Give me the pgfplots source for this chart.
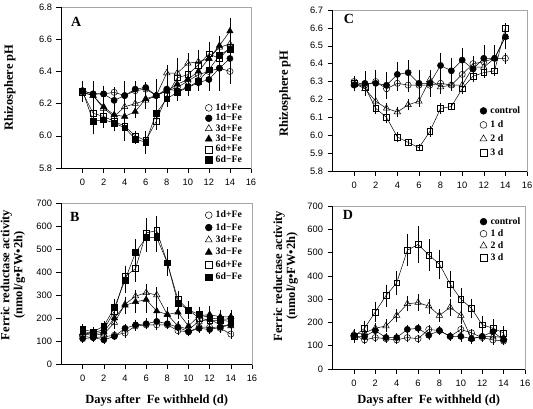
\documentclass[border=0pt]{standalone}
\usepackage{pgfplots}
\pgfplotsset{compat=1.18}
\usepackage{fontspec}
\setmainfont{Liberation Serif}
\newfontfamily\sansf{Liberation Sans}
\pgfplotsset{
  panel/.style={
    scale only axis, xmin=-2, xmax=16, xtick={0,2,...,16},
    tick align=outside, xtick pos=bottom, ytick pos=left,
    major tick length=5pt, tick style={black, line width=0.5pt},
    axis line style={draw=gray!70, line width=0.6pt},
    tick label style={font=\sansf\fontsize{9.3}{10}\selectfont},
    xticklabel style={yshift=-2.5pt},
    yticklabel style={xshift=-1pt},
    /pgf/number format/assume math mode=true,
    clip=false,
    label style={font=\bfseries\fontsize{12.5}{13}\selectfont},
    legend image code/.code={\draw[##1] plot coordinates {(0.13cm,0cm)};},
    legend cell align=left,
  },
  lg/.style={legend style={draw=none, fill=none, anchor=north west,
    font=\bfseries\fontsize{9.8}{10}\selectfont, column sep=2.5pt,
    nodes={inner ysep=0pt, inner xsep=1pt, text height=7pt, text depth=2pt}}},
  s/.style={black, line width=0.5pt, mark size=3.1pt,
    error bars/y dir=both, error bars/y explicit,
    error bars/error bar style={black, line width=0.5pt},
    error bars/error mark options={black, line width=0.5pt, mark size=1.8pt}},
  oc/.style={s, mark=o, mark options={fill=white, solid}},
  fc/.style={s, mark=*, mark options={fill=black, solid}},
  ot/.style={s, mark=triangle, mark size=3.7pt, mark options={fill=white, solid}},
  ft/.style={s, mark=triangle*, mark size=3.7pt, mark options={fill=black, solid}},
  os/.style={s, mark=square, mark size=2.9pt, mark options={fill=white, solid}},
  fs/.style={s, mark=square*, mark size=2.9pt, mark options={fill=black, solid}},
  big/.style={mark size=3.4pt},
  bigt/.style={mark size=4pt},
}
\begin{document}
\begin{tikzpicture}
\useasboundingbox (0,0) rectangle (533pt,409pt);
% ---------------- Panel A
\begin{axis}[panel, lg, at={(61.5pt,241pt)}, anchor=south west, width=189.5pt, height=161pt,
  ymin=5.8, ymax=6.8, ytick={5.8,6,6.2,6.4,6.6,6.8},
  yticklabel style={/pgf/number format/.cd, fixed, fixed zerofill, precision=1},
  ylabel={Rhizosphere pH}, ylabel style={at={(axis description cs:-0.272,0.5)}, anchor=center},
  legend style={at={(axis description cs:0.742,0.415)}, row sep=1.4pt}]
\addplot[oc, forget plot] coordinates {(0,6.28)+-(0,0.04) (1,6.26)+-(0,0.03) (2,6.26)+-(0,0.03) (3,6.27)+-(0,0.02) (4,6.25)+-(0,0.03) (5,6.28)+-(0,0.03) (6,6.29)+-(0,0.02) (7,6.25)+-(0,0.03) (8,6.28)+-(0,0.03) (9,6.30)+-(0,0.03) (10,6.34)+-(0,0.03) (11,6.38)+-(0,0.04) (12,6.40)+-(0,0.04) (13,6.42)+-(0,0.05) (14,6.40)+-(0,0.07)};
\addplot[fc, forget plot] coordinates {(0,6.28)+-(0,0.05) (1,6.26)+-(0,0.07) (2,6.26)+-(0,0.04) (3,6.22)+-(0,0.03) (4,6.25)+-(0,0.08) (5,6.29)+-(0,0.04) (6,6.30)+-(0,0.02) (7,6.25)+-(0,0.03) (8,6.29)+-(0,0.04) (9,6.28)+-(0,0.03) (10,6.30)+-(0,0.04) (11,6.33)+-(0,0.04) (12,6.35)+-(0,0.06) (13,6.42)+-(0,0.13) (14,6.48)+-(0,0.05)};
\addplot[ot, forget plot] coordinates {(0,6.27)+-(0,0.04) (1,6.25)+-(0,0.04) (2,6.17)+-(0,0.04) (3,6.12)+-(0,0.03) (4,6.18)+-(0,0.03) (5,6.20)+-(0,0.03) (6,6.22)+-(0,0.04) (7,6.25)+-(0,0.09) (8,6.39)+-(0,0.04) (9,6.39)+-(0,0.08) (10,6.45)+-(0,0.05) (11,6.46)+-(0,0.06) (12,6.48)+-(0,0.09) (13,6.55)+-(0,0.05) (14,6.57)+-(0,0.05)};
\addplot[ft, forget plot] coordinates {(0,6.27)+-(0,0.04) (1,6.25)+-(0,0.05) (2,6.18)+-(0,0.04) (3,6.13)+-(0,0.04) (4,6.12)+-(0,0.04) (5,6.15)+-(0,0.03) (6,6.23)+-(0,0.05) (7,6.25)+-(0,0.05) (8,6.28)+-(0,0.04) (9,6.32)+-(0,0.05) (10,6.35)+-(0,0.04) (11,6.40)+-(0,0.05) (12,6.48)+-(0,0.06) (13,6.56)+-(0,0.05) (14,6.65)+-(0,0.07)};
\addplot[os, forget plot] coordinates {(0,6.27)+-(0,0.05) (1,6.14)+-(0,0.04) (2,6.12)+-(0,0.03) (3,6.09)+-(0,0.04) (4,6.06)+-(0,0.04) (5,6.00)+-(0,0.02) (6,5.97)+-(0,0.03) (7,6.09)+-(0,0.04) (8,6.25)+-(0,0.05) (9,6.36)+-(0,0.05) (10,6.38)+-(0,0.05) (11,6.44)+-(0,0.05) (12,6.51)+-(0,0.06) (13,6.48)+-(0,0.05) (14,6.55)+-(0,0.04)};
\addplot[fs, forget plot] coordinates {(0,6.28)+-(0,0.05) (1,6.09)+-(0,0.07) (2,6.10)+-(0,0.04) (3,6.08)+-(0,0.04) (4,6.05)+-(0,0.07) (5,5.98)+-(0,0.02) (6,5.96)+-(0,0.06) (7,6.14)+-(0,0.04) (8,6.23)+-(0,0.04) (9,6.27)+-(0,0.04) (10,6.30)+-(0,0.04) (11,6.34)+-(0,0.04) (12,6.41)+-(0,0.05) (13,6.50)+-(0,0.04) (14,6.54)+-(0,0.04)};
\addlegendimage{oc,big}\addlegendentry{1d+Fe}
\addlegendimage{fc,big}\addlegendentry{1d−Fe}
\addlegendimage{ot,bigt}\addlegendentry{3d+Fe}
\addlegendimage{ft,bigt}\addlegendentry{3d−Fe}
\addlegendimage{os,big}\addlegendentry{6d+Fe}
\addlegendimage{fs,big}\addlegendentry{6d−Fe}
\draw[black, line width=0.6pt] (rel axis cs:0,1) -- (rel axis cs:0,0) -- (rel axis cs:1,0);
\node[font=\bfseries\fontsize{14}{14}\selectfont] at (rel axis cs:0.078,0.91) {A};
\end{axis}
% ---------------- Panel C
\begin{axis}[panel, lg, at={(332.5pt,238pt)}, anchor=south west, width=194.5pt, height=161pt,
  ymin=5.8, ymax=6.7, ytick={5.8,5.9,6,6.1,6.2,6.3,6.4,6.5,6.6,6.7},
  yticklabel style={/pgf/number format/.cd, fixed, fixed zerofill, precision=1},
  ylabel={Rhizosphere pH}, ylabel style={at={(axis description cs:-0.245,0.48)}, anchor=center},
  legend style={at={(axis description cs:0.742,0.415)}, row sep=5pt}]
\addplot[fc, forget plot] coordinates {(0,6.28)+-(0,0.02) (1,6.29)+-(0,0.06) (2,6.29)+-(0,0.065) (3,6.28)+-(0,0.065) (4,6.34)+-(0,0.06) (5,6.35)+-(0,0.06) (6,6.29)+-(0,0.065) (7,6.29)+-(0,0.065) (8,6.39)+-(0,0.06) (9,6.36)+-(0,0.06) (10,6.42)+-(0,0.06) (11,6.37)+-(0,0.065) (12,6.43)+-(0,0.065) (13,6.43)+-(0,0.065) (14,6.55)+-(0,0.04)};
\addplot[oc, forget plot] coordinates {(0,6.30)+-(0,0.02) (1,6.28)+-(0,0.04) (2,6.30)+-(0,0.03) (3,6.26)+-(0,0.04) (4,6.29)+-(0,0.03) (5,6.28)+-(0,0.03) (6,6.28)+-(0,0.03) (7,6.28)+-(0,0.03) (8,6.29)+-(0,0.02) (9,6.28)+-(0,0.02) (10,6.34)+-(0,0.03) (11,6.40)+-(0,0.03) (12,6.41)+-(0,0.03) (13,6.43)+-(0,0.03) (14,6.43)+-(0,0.02)};
\addplot[ot, forget plot] coordinates {(0,6.29)+-(0,0.02) (1,6.26)+-(0,0.03) (2,6.19)+-(0,0.02) (3,6.15)+-(0,0.02) (4,6.13)+-(0,0.02) (5,6.17)+-(0,0.02) (6,6.19)+-(0,0.02) (7,6.31)+-(0,0.04) (8,6.27)+-(0,0.03) (9,6.28)+-(0,0.02) (10,6.28)+-(0,0.02) (11,6.38)+-(0,0.03) (12,6.38)+-(0,0.03) (13,6.43)+-(0,0.03) (14,6.55)+-(0,0.06)};
\addplot[os, forget plot] coordinates {(0,6.29)+-(0,0.02) (1,6.27)+-(0,0.02) (2,6.15)+-(0,0.02) (3,6.10)+-(0,0.02) (4,5.99)+-(0,0.02) (5,5.96)+-(0,0.01) (6,5.93)+-(0,0.01) (7,6.02)+-(0,0.02) (8,6.15)+-(0,0.02) (9,6.16)+-(0,0.01) (10,6.26)+-(0,0.02) (11,6.33)+-(0,0.02) (12,6.35)+-(0,0.02) (13,6.36)+-(0,0.02) (14,6.60)+-(0,0.02)};
\addlegendimage{fc,big}\addlegendentry{control}
\addlegendimage{oc,big}\addlegendentry{1 d}
\addlegendimage{ot,bigt}\addlegendentry{2 d}
\addlegendimage{os,big}\addlegendentry{3 d}
\draw[black, line width=0.6pt] (rel axis cs:0,1) -- (rel axis cs:0,0) -- (rel axis cs:1,0);
\node[font=\bfseries\fontsize{14}{14}\selectfont] at (rel axis cs:0.085,0.944) {C};
\end{axis}
% ---------------- Panel B
\begin{axis}[panel, lg, at={(61.5pt,45pt)}, anchor=south west, width=190.5pt, height=161pt,
  ymin=0, ymax=700, ytick={0,100,...,700},
  ylabel={Ferric reductase activity\\(nmol/g•FW•2h)},
  ylabel style={align=center, at={(axis description cs:-0.255,0.553)}, anchor=center},
  xlabel={Days after\ \ Fe withheld (d)},
  xlabel style={at={(axis description cs:0.5,-0.224)}, anchor=center},
  legend style={at={(axis description cs:0.738,0.966)}, row sep=3.4pt}]
\addplot[oc, forget plot] coordinates {(0,120)+-(0,12) (1,115)+-(0,12) (2,118)+-(0,10) (3,125)+-(0,10) (4,135)+-(0,15) (5,165)+-(0,12) (6,170)+-(0,12) (7,170)+-(0,15) (8,170)+-(0,12) (9,145)+-(0,12) (10,140)+-(0,12) (11,160)+-(0,12) (12,160)+-(0,12) (13,155)+-(0,12) (14,130)+-(0,12)};
\addplot[fc, forget plot] coordinates {(0,110)+-(0,10) (1,115)+-(0,10) (2,105)+-(0,10) (3,120)+-(0,10) (4,155)+-(0,12) (5,170)+-(0,15) (6,175)+-(0,15) (7,185)+-(0,15) (8,175)+-(0,15) (9,160)+-(0,15) (10,140)+-(0,12) (11,155)+-(0,12) (12,150)+-(0,12) (13,160)+-(0,12) (14,170)+-(0,12)};
\addplot[ot, forget plot] coordinates {(0,130)+-(0,15) (1,125)+-(0,15) (2,130)+-(0,15) (3,180)+-(0,20) (4,260)+-(0,25) (5,295)+-(0,20) (6,310)+-(0,30) (7,300)+-(0,25) (8,215)+-(0,20) (9,165)+-(0,15) (10,150)+-(0,15) (11,185)+-(0,15) (12,195)+-(0,15) (13,170)+-(0,15) (14,165)+-(0,15)};
\addplot[ft, forget plot] coordinates {(0,135)+-(0,15) (1,130)+-(0,15) (2,140)+-(0,15) (3,200)+-(0,25) (4,255)+-(0,30) (5,270)+-(0,40) (6,280)+-(0,50) (7,230)+-(0,30) (8,215)+-(0,25) (9,225)+-(0,20) (10,165)+-(0,20) (11,210)+-(0,20) (12,215)+-(0,30) (13,205)+-(0,20) (14,205)+-(0,20)};
\addplot[os, forget plot] coordinates {(0,140)+-(0,15) (1,135)+-(0,15) (2,150)+-(0,15) (3,230)+-(0,30) (4,380)+-(0,40) (5,415)+-(0,50) (6,570)+-(0,55) (7,580)+-(0,55) (8,440)+-(0,50) (9,280)+-(0,30) (10,235)+-(0,30) (11,200)+-(0,25) (12,190)+-(0,25) (13,190)+-(0,20) (14,185)+-(0,20)};
\addplot[fs, forget plot] coordinates {(0,150)+-(0,15) (1,140)+-(0,15) (2,165)+-(0,15) (3,245)+-(0,30) (4,365)+-(0,50) (5,485)+-(0,50) (6,550)+-(0,55) (7,550)+-(0,55) (8,440)+-(0,45) (9,265)+-(0,30) (10,235)+-(0,30) (11,215)+-(0,25) (12,200)+-(0,25) (13,195)+-(0,20) (14,195)+-(0,20)};
\addlegendimage{oc,big}\addlegendentry{1d+Fe}
\addlegendimage{fc,big}\addlegendentry{1d−Fe}
\addlegendimage{ot,bigt}\addlegendentry{3d+Fe}
\addlegendimage{ft,bigt}\addlegendentry{3d−Fe}
\addlegendimage{os,big}\addlegendentry{6d+Fe}
\addlegendimage{fs,big}\addlegendentry{6d−Fe}
\draw[black, line width=0.6pt] (rel axis cs:0,1) -- (rel axis cs:0,0) -- (rel axis cs:1,0);
\node[font=\bfseries\fontsize{14}{14}\selectfont] at (rel axis cs:0.07,0.913) {B};
\end{axis}
% ---------------- Panel D
\begin{axis}[panel, lg, at={(332.5pt,40pt)}, anchor=south west, width=192.5pt, height=163pt,
  ymin=0, ymax=700, ytick={0,100,...,700},
  ylabel={Ferric reductase activity\\(nmol/g•FW•2h)},
  ylabel style={align=center, at={(axis description cs:-0.243,0.57)}, anchor=center},
  xlabel={Days after\ \ Fe withheld (d)},
  xlabel style={at={(axis description cs:0.5,-0.19)}, anchor=center},
  legend style={at={(axis description cs:0.75,0.945)}, row sep=3.1pt}]
\addplot[fc, forget plot] coordinates {(0,140)+-(0,15) (1,140)+-(0,15) (2,165)+-(0,10) (3,135)+-(0,10) (4,135)+-(0,10) (5,170)+-(0,10) (6,175)+-(0,12) (7,145)+-(0,12) (8,165)+-(0,10) (9,140)+-(0,10) (10,140)+-(0,15) (11,130)+-(0,15) (12,140)+-(0,10) (13,160)+-(0,10) (14,125)+-(0,10)};
\addplot[oc, forget plot] coordinates {(0,145)+-(0,15) (1,125)+-(0,10) (2,135)+-(0,10) (3,130)+-(0,10) (4,125)+-(0,10) (5,135)+-(0,10) (6,130)+-(0,10) (7,170)+-(0,10) (8,165)+-(0,10) (9,140)+-(0,10) (10,170)+-(0,10) (11,155)+-(0,10) (12,135)+-(0,10) (13,125)+-(0,15) (14,120)+-(0,10)};
\addplot[ot, forget plot] coordinates {(0,150)+-(0,15) (1,155)+-(0,15) (2,175)+-(0,15) (3,185)+-(0,20) (4,230)+-(0,20) (5,280)+-(0,25) (6,285)+-(0,30) (7,270)+-(0,25) (8,230)+-(0,20) (9,265)+-(0,30) (10,230)+-(0,30) (11,130)+-(0,15) (12,140)+-(0,15) (13,140)+-(0,15) (14,135)+-(0,15)};
\addplot[os, forget plot] coordinates {(0,140)+-(0,20) (1,175)+-(0,25) (2,245)+-(0,35) (3,315)+-(0,40) (4,370)+-(0,45) (5,510)+-(0,60) (6,535)+-(0,70) (7,490)+-(0,60) (8,450)+-(0,55) (9,365)+-(0,50) (10,300)+-(0,40) (11,260)+-(0,35) (12,190)+-(0,30) (13,175)+-(0,30) (14,155)+-(0,20)};
\addlegendimage{fc,big}\addlegendentry{control}
\addlegendimage{oc,big}\addlegendentry{1 d}
\addlegendimage{ot,bigt}\addlegendentry{2 d}
\addlegendimage{os,big}\addlegendentry{3 d}
\draw[black, line width=0.6pt] (rel axis cs:0,1) -- (rel axis cs:0,0) -- (rel axis cs:1,0);
\node[font=\bfseries\fontsize{14}{14}\selectfont] at (rel axis cs:0.08,0.945) {D};
\end{axis}
\end{tikzpicture}
\end{document}
